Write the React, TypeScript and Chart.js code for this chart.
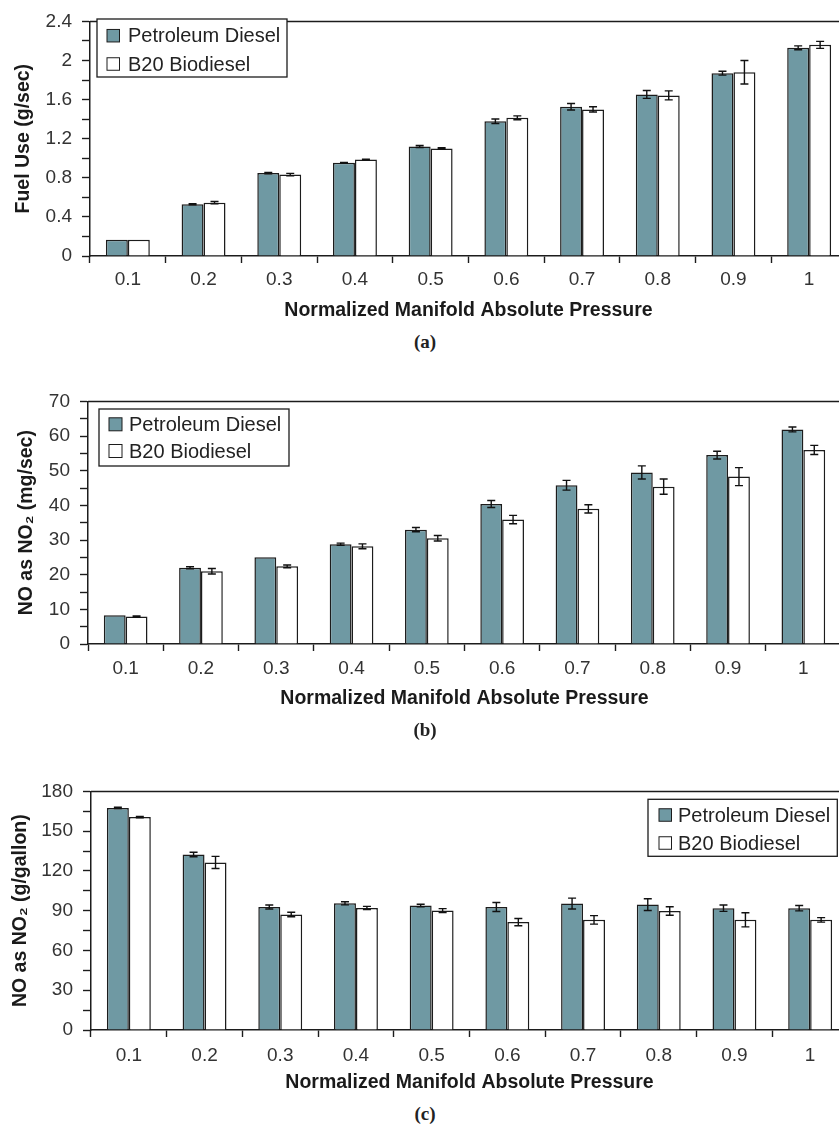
import React, { useEffect, useRef } from 'react';
import { Chart, registerables } from 'chart.js';

Chart.register(...registerables);

// ---------- data ----------
const categories = ['0.1', '0.2', '0.3', '0.4', '0.5', '0.6', '0.7', '0.8', '0.9', '1'];
const seriesNames = ['Petroleum Diesel', 'B20 Biodiesel'];

const fuelPetro = [0.165, 0.53, 0.848, 0.953, 1.12, 1.378, 1.527, 1.653, 1.87, 2.13];
const fuelB20 = [0.165, 0.545, 0.833, 0.986, 1.1, 1.414, 1.5, 1.643, 1.88, 2.16];
const fuelPetroErr = [0, 0.005, 0.008, 0.005, 0.01, 0.023, 0.033, 0.04, 0.02, 0.02];
const fuelB20Err = [0, 0.012, 0.012, 0.005, 0.008, 0.02, 0.027, 0.046, 0.12, 0.036];

const noxPetro = [8.3, 22.0, 25.0, 28.8, 33.0, 40.4, 45.8, 49.5, 54.5, 61.9];
const noxB20 = [7.9, 21.0, 22.4, 28.2, 30.5, 35.9, 39.0, 45.4, 48.3, 56.0];
const noxPetroErr = [0, 0.3, 0, 0.3, 0.6, 1.0, 1.4, 1.9, 1.1, 0.7];
const noxB20Err = [0.2, 0.8, 0.4, 0.7, 0.8, 1.2, 1.2, 2.2, 2.6, 1.3];

const galPetro = [167.5, 132.4, 92.8, 95.6, 93.9, 92.8, 95.4, 94.6, 91.9, 91.9];
const galB20 = [160.6, 126.4, 87.1, 92.1, 90.1, 81.4, 83.1, 89.8, 83.1, 83.1];
const galPetroErr = [0.5, 1.7, 1.5, 1.2, 1.0, 3.4, 4.1, 4.4, 2.4, 2.0];
const galB20Err = [0.5, 4.6, 1.7, 1.2, 1.5, 2.7, 3.2, 3.2, 5.3, 1.7];

// ---------- styles ----------
const PETRO_COLOR = '#6f99a3';
const B20_COLOR = '#ffffff';
const EDGE = '#1c1c1c';
const SANS = '"Liberation Sans", Arial, sans-serif';

const errorBarPlugin = {
  id: 'errorBars',
  afterDatasetsDraw(chart: any, _args: any, opts: any) {
    const errs: number[][] = opts.errors || [];
    const ys = chart.scales.y;
    const ctx = chart.ctx;
    ctx.save();
    ctx.strokeStyle = '#111';
    ctx.lineWidth = 1.4;
    chart.data.datasets.forEach((ds: any, i: number) => {
      const meta = chart.getDatasetMeta(i);
      meta.data.forEach((bar: any, j: number) => {
        const e = errs[i] ? errs[i][j] : 0;
        if (!e) return;
        const v = ds.data[j];
        const x = bar.x;
        const top = ys.getPixelForValue(v + e);
        const bot = ys.getPixelForValue(v - e);
        ctx.beginPath();
        ctx.moveTo(x, top);
        ctx.lineTo(x, bot);
        ctx.moveTo(x - 4, top);
        ctx.lineTo(x + 4, top);
        ctx.moveTo(x - 4, bot);
        ctx.lineTo(x + 4, bot);
        ctx.stroke();
      });
    });
    ctx.restore();
  },
};

const framePlugin = {
  id: 'frameTop',
  afterDraw(chart: any) {
    const { ctx, chartArea } = chart;
    ctx.save();
    ctx.strokeStyle = EDGE;
    ctx.lineWidth = 1.5;
    ctx.beginPath();
    ctx.moveTo(chartArea.left, chartArea.top);
    ctx.lineTo(chartArea.right, chartArea.top);
    ctx.stroke();
    ctx.restore();
  },
};

const boxLegendPlugin = {
  id: 'boxLegend',
  afterDraw(chart: any, _args: any, o: any) {
    if (!o || !o.box) return;
    const ctx = chart.ctx;
    const [bx, by, bw, bh] = o.box;
    ctx.save();
    ctx.fillStyle = '#fff';
    ctx.fillRect(bx, by, bw, bh);
    ctx.strokeStyle = EDGE;
    ctx.lineWidth = 1.3;
    ctx.strokeRect(bx, by, bw, bh);
    ctx.font = `20px ${SANS}`;
    ctx.textBaseline = 'middle';
    chart.data.datasets.forEach((ds: any, i: number) => {
      const cy = o.rows[i];
      const s = o.marker;
      ctx.fillStyle = ds.backgroundColor;
      ctx.fillRect(o.markerX, cy - s / 2, s, s);
      ctx.lineWidth = 1;
      ctx.strokeStyle = EDGE;
      ctx.strokeRect(o.markerX, cy - s / 2, s, s);
      ctx.fillStyle = '#222';
      ctx.fillText(ds.label, o.textX, cy + 1);
    });
    ctx.restore();
  },
};

type PanelSpec = {
  top: number;
  width: number;
  height: number;
  padTop: number;
  yWidth: number;
  xHeight: number;
  yMax: number;
  yStep: number;
  yTitle: string;
  yTitlePad: number;
  xTitlePad: number;
  xTickPad: number;
  petro: number[];
  b20: number[];
  petroErr: number[];
  b20Err: number[];
  legend: any;
};

function fmt(v: number) {
  return String(Number(v.toFixed(2)));
}

function Panel({ spec }: { spec: PanelSpec }) {
  const ref = useRef<HTMLCanvasElement | null>(null);
  useEffect(() => {
    if (!ref.current) return;
    const s = spec;
    const chart = new Chart(ref.current, {
      type: 'bar',
      data: {
        labels: categories,
        datasets: [
          {
            label: seriesNames[0],
            data: s.petro,
            backgroundColor: PETRO_COLOR,
            borderColor: EDGE,
            borderWidth: 1.5,
            categoryPercentage: 0.58,
            barPercentage: 1.0,
          },
          {
            label: seriesNames[1],
            data: s.b20,
            backgroundColor: B20_COLOR,
            borderColor: EDGE,
            borderWidth: 1.5,
            categoryPercentage: 0.58,
            barPercentage: 1.0,
          },
        ],
      },
      options: {
        responsive: false,
        animation: false,
        devicePixelRatio: 1,
        layout: { padding: { top: s.padTop, left: 0, right: 0, bottom: 0 } },
        plugins: {
          legend: { display: false },
          tooltip: { enabled: false },
          errorBars: { errors: [s.petroErr, s.b20Err] },
          boxLegend: s.legend,
        } as any,
        scales: {
          x: {
            type: 'category',
            offset: true,
            grid: {
              offset: true,
              drawOnChartArea: false,
              drawTicks: true,
              tickLength: 7,
              tickColor: EDGE,
              tickWidth: 1.4,
            },
            border: { display: true, color: EDGE, width: 1.5 },
            ticks: {
              color: '#333',
              font: { family: SANS, size: 19 },
              padding: s.xTickPad,
              maxRotation: 0,
              autoSkip: false,
            },
            title: {
              display: true,
              text: 'Normalized Manifold Absolute Pressure',
              color: '#1a1a1a',
              font: { family: SANS, size: 19.5, weight: 'bold' },
              padding: { top: 0, bottom: s.xTitlePad },
            },
            afterFit: (scale: any) => {
              scale.height = s.xHeight;
            },
          },
          y: {
            type: 'linear',
            min: 0,
            max: s.yMax,
            grid: {
              drawOnChartArea: false,
              drawTicks: true,
              tickLength: 8,
              tickColor: EDGE,
              tickWidth: 1.4,
            },
            border: { display: true, color: EDGE, width: 1.5 },
            ticks: {
              stepSize: s.yStep,
              autoSkip: false,
              color: '#333',
              font: { family: SANS, size: 19 },
              padding: 10,
              callback: (v: any) => {
                const k = Math.round(Number(v) / s.yStep);
                return k % 2 === 0 ? fmt(Number(v)) : '';
              },
            },
            title: {
              display: true,
              text: s.yTitle,
              color: '#1a1a1a',
              font: { family: SANS, size: 19.5, weight: 'bold' },
              padding: { top: s.yTitlePad, bottom: 0 },
            },
            afterFit: (scale: any) => {
              scale.width = s.yWidth;
            },
          },
        },
      } as any,
      plugins: [errorBarPlugin, framePlugin, boxLegendPlugin],
    });
    return () => chart.destroy();
  }, [spec]);
  return (
    <canvas
      ref={ref}
      width={spec.width}
      height={spec.height}
      style={{ position: 'absolute', left: 0, top: spec.top, width: spec.width, height: spec.height, display: 'block' }}
    />
  );
}

const panelA: PanelSpec = {
  top: 0,
  width: 847,
  height: 330,
  padTop: 15,
  yWidth: 90,
  xHeight: 74,
  yMax: 2.4,
  yStep: 0.2,
  yTitle: 'Fuel Use (g/sec)',
  yTitlePad: 12.3,
  xTitlePad: 7.8,
  xTickPad: 5.6,
  petro: fuelPetro,
  b20: fuelB20,
  petroErr: fuelPetroErr,
  b20Err: fuelB20Err,
  legend: { box: [97, 19, 190, 58], rows: [35.7, 64], marker: 12.5, markerX: 107, textX: 128 },
};

const panelB: PanelSpec = {
  top: 380,
  width: 841,
  height: 340,
  padTop: 20,
  yWidth: 88,
  xHeight: 76,
  yMax: 70,
  yStep: 5,
  yTitle: 'NO as NO₂ (mg/sec)',
  yTitlePad: 15.3,
  xTitlePad: 9.3,
  xTickPad: 6.1,
  petro: noxPetro,
  b20: noxB20,
  petroErr: noxPetroErr,
  b20Err: noxB20Err,
  legend: { box: [99, 29, 190, 57], rows: [44.3, 71], marker: 13, markerX: 109, textX: 129 },
};

const panelC: PanelSpec = {
  top: 770,
  width: 848,
  height: 333,
  padTop: 19,
  yWidth: 91,
  xHeight: 73,
  yMax: 180,
  yStep: 15,
  yTitle: 'NO as NO₂ (g/gallon)',
  yTitlePad: 8.8,
  xTitlePad: 8.3,
  xTickPad: 7.4,
  petro: galPetro,
  b20: galB20,
  petroErr: galPetroErr,
  b20Err: galB20Err,
  legend: { box: [648, 29.3, 189.3, 57], rows: [45, 73], marker: 12.5, markerX: 659, textX: 678 },
};

const captions = [
  { text: '(a)', y: 341.7 },
  { text: '(b)', y: 730 },
  { text: '(c)', y: 1114 },
];

export default function App() {
  return (
    <div
      style={{
        position: 'absolute',
        left: 0,
        top: 0,
        width: 839,
        height: 1128,
        overflow: 'hidden',
        background: '#fff',
      }}
    >
      <Panel spec={panelA} />
      <Panel spec={panelB} />
      <Panel spec={panelC} />
      {captions.map((c) => (
        <div
          key={c.text}
          style={{
            position: 'absolute',
            left: 0,
            width: 850,
            top: c.y - 11,
            height: 22,
            lineHeight: '22px',
            textAlign: 'center',
            fontFamily: '"Liberation Serif", "Times New Roman", serif',
            fontWeight: 'bold',
            fontSize: 19,
            color: '#222',
          }}
        >
          {c.text}
        </div>
      ))}
    </div>
  );
}
